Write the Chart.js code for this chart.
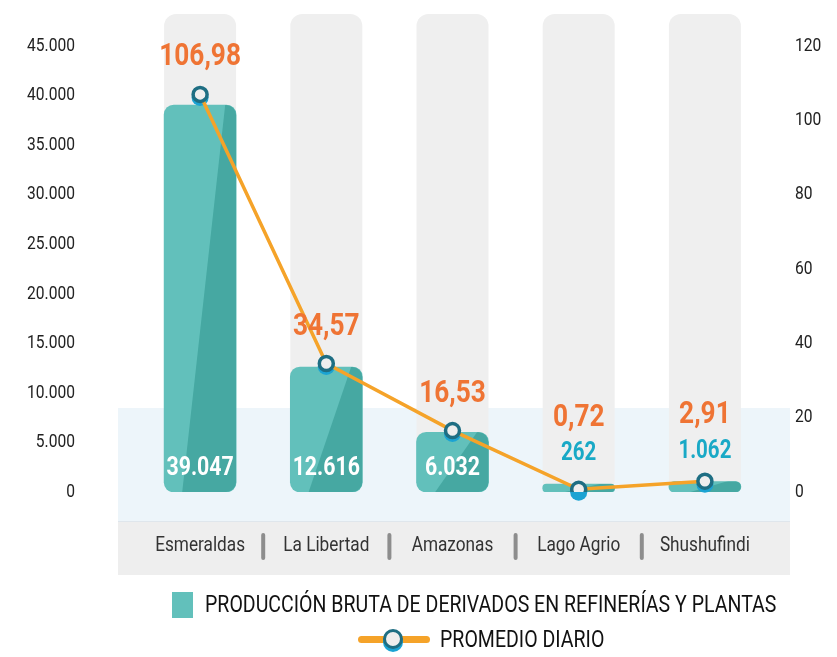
<!DOCTYPE html>
<html>
<head>
<meta charset="utf-8">
<script src="https://cdn.jsdelivr.net/npm/chart.js@4/dist/chart.umd.min.js"></script>
<style>
  html, body { margin: 0; padding: 0; background: #fff; }
  #wrap { position: relative; width: 837px; height: 657px; }
  .lg { position: absolute; font-family: Roboto, sans-serif; font-size: 23px; color: #111; white-space: nowrap; }
  .lg span { display: inline-block; transform: scaleX(0.85); transform-origin: left center; }
  #swatch { position: absolute; left: 172px; top: 592px; width: 21px; height: 26px; background: #62c0bb; }
  #lineIcon { position: absolute; left: 358px; top: 636px; width: 72px; height: 7px; border-radius: 4px; background: #f5a329; }
  #dotIcon { position: absolute; left: 383px; top: 629px; width: 14px; height: 14px; border-radius: 50%;
             border: 3px solid #1e6e83; background: #eeeeee; box-shadow: 0 3px 0 #1ba3d3; }
</style>
</head>
<body>
<div id="wrap">
  <canvas id="refineriasChart" width="837" height="657"></canvas>
  <div id="swatch"></div>
  <div class="lg" style="left:205px; top:591px;"><span>PRODUCCIÓN BRUTA DE DERIVADOS EN REFINERÍAS Y PLANTAS</span></div>
  <div id="lineIcon"></div>
  <div id="dotIcon"></div>
  <div class="lg" style="left:440px; top:626px;"><span>PROMEDIO DIARIO</span></div>
</div>
<script>
// Producción bruta de derivados por refinería / planta, con promedio diario
const categories = ['Esmeraldas', 'La Libertad', 'Amazonas', 'Lago Agrio', 'Shushufindi'];
const produccionBruta = [39047, 12616, 6032, 262, 1062];
const promedioDiario = [106.98, 34.57, 16.53, 0.72, 2.91];
const leftAxis = { min: 0, max: 45000, step: 5000 };
const rightAxis = { min: 0, max: 120, step: 20 };

const SX = 0.82; // texto condensado
const TEAL = '#62c0bb', TEAL_DARK = '#46a8a2', ORANGE = '#f5a329', ORANGE_TXT = '#ef7434';

const fmtMiles = v => String(v).replace(/\B(?=(\d{3})+(?!\d))/g, '.');
const fmtDec = v => v.toFixed(2).replace('.', ',');

function cText(ctx, text, x, y, font, color, align) {
  ctx.save();
  ctx.font = font;
  ctx.fillStyle = color;
  ctx.textAlign = align || 'center';
  ctx.textBaseline = 'middle';
  ctx.translate(x, y);
  ctx.scale(SX, 1);
  ctx.fillText(text, 0, 0);
  ctx.restore();
}

function roundRect(ctx, x, y, w, h, r) {
  r = Math.min(r, h / 2, w / 2);
  ctx.beginPath();
  ctx.moveTo(x + r, y);
  ctx.arcTo(x + w, y, x + w, y + h, r);
  ctx.arcTo(x + w, y + h, x, y + h, r);
  ctx.arcTo(x, y + h, x, y, r);
  ctx.arcTo(x, y, x + w, y, r);
  ctx.closePath();
}

const decor = {
  id: 'decor',
  beforeDatasetsDraw(chart) {
    const { ctx, chartArea: a, scales: { x } } = chart;
    const bandL = a.left - 19, bandR = a.right + 22;
    ctx.save();
    // franja azul y franja gris de categorías
    ctx.fillStyle = '#edf5fa';
    ctx.fillRect(bandL, a.bottom - 84, bandR - bandL, 114);
    ctx.fillStyle = '#dfe6ec';
    ctx.fillRect(bandL, a.bottom + 29, bandR - bandL, 2);
    ctx.fillStyle = '#eeeeee';
    ctx.fillRect(bandL, a.bottom + 30, bandR - bandL, 53);
    // columnas grises de fondo
    ctx.fillStyle = '#efefef';
    categories.forEach((c, i) => {
      const cx = x.getPixelForTick(i);
      roundRect(ctx, cx - 36, a.top - 32, 72, a.bottom - a.top + 32, 12);
      ctx.fill();
    });
    ctx.restore();
  },
  beforeDatasetDraw(chart, args) {
    if (args.meta.type !== 'line') return;
    const ctx = chart.ctx;
    ctx.save();
    ctx.fillStyle = '#1ba3d3';
    args.meta.data.forEach(p => {
      ctx.beginPath();
      ctx.arc(p.x, p.y + 3, 8.5, 0, Math.PI * 2);
      ctx.fill();
    });
    ctx.restore();
  },
  afterDatasetDraw(chart, args) {
    if (args.meta.type !== 'bar') return;
    const ctx = chart.ctx;
    args.meta.data.forEach(b => {
      const w = b.width, l = b.x - w / 2, r = b.x + w / 2, h = b.base - b.y;
      ctx.save();
      roundRect(ctx, l, b.y, w, h, 10);
      ctx.clip();
      ctx.fillStyle = TEAL_DARK;
      ctx.beginPath();
      ctx.moveTo(r - w * 0.15, b.y - 1);
      ctx.lineTo(r + 1, b.y - 1);
      ctx.lineTo(r + 1, b.base + 1);
      ctx.lineTo(l + w * 0.25, b.base + 1);
      ctx.closePath();
      ctx.fill();
      ctx.restore();
    });
  },
  afterDatasetsDraw(chart) {
    const { ctx, chartArea: a, scales } = chart;
    const bars = chart.getDatasetMeta(0).data;
    const pts = chart.getDatasetMeta(1).data;

    // etiquetas de ejes
    scales.y.ticks.forEach(t => {
      cText(ctx, fmtMiles(t.value), 75, scales.y.getPixelForValue(t.value), '19px Roboto', '#222', 'right');
    });
    scales.y1.ticks.forEach(t => {
      cText(ctx, String(t.value), 795, scales.y1.getPixelForValue(t.value), '19px Roboto', '#222', 'left');
    });
    categories.forEach((c, i) => {
      const cx = scales.x.getPixelForTick(i);
      cText(ctx, c, cx, a.bottom + 54, '21px Roboto', '#333');
      if (i > 0) {
        const sx = (cx + scales.x.getPixelForTick(i - 1)) / 2;
        ctx.fillStyle = '#8d8d8d';
        roundRect(ctx, sx - 2, a.bottom + 41, 4, 27, 2);
        ctx.fill();
      }
    });

    // valores
    bars.forEach((b, i) => {
      const p = pts[i];
      const h = b.base - b.y;
      if (h > 40) {
        cText(ctx, fmtMiles(produccionBruta[i]), b.x, b.base - 24, 'bold 26px Roboto', '#fff');
        cText(ctx, fmtDec(promedioDiario[i]), b.x, Math.min(p.y, b.y) - 37, 'bold 32px Roboto', ORANGE_TXT);
      } else {
        cText(ctx, fmtMiles(produccionBruta[i]), b.x, b.y - 30, 'bold 25px Roboto', '#19a9c6');
        cText(ctx, fmtDec(promedioDiario[i]), b.x, b.y - 66, 'bold 32px Roboto', ORANGE_TXT);
      }
    });
  }
};

new Chart(document.getElementById('refineriasChart'), {
  data: {
    labels: categories,
    datasets: [
      {
        type: 'bar', label: 'PRODUCCIÓN BRUTA DE DERIVADOS EN REFINERÍAS Y PLANTAS',
        data: produccionBruta, yAxisID: 'y', order: 1,
        backgroundColor: TEAL, borderRadius: 10, borderSkipped: false,
        barThickness: 72, minBarLength: 8,
      },
      {
        type: 'line', label: 'PROMEDIO DIARIO',
        data: promedioDiario, yAxisID: 'y1', order: 0,
        borderColor: ORANGE, borderWidth: 3.5, tension: 0,
        pointRadius: 7, pointBorderWidth: 3.5, pointBorderColor: '#1e6e83', pointBackgroundColor: '#eeeeee',
      },
    ],
  },
  options: {
    responsive: false, animation: false,
    layout: { padding: { top: 46, bottom: 82, left: 0, right: 0 } },
    plugins: { legend: { display: false }, tooltip: { enabled: false } },
    scales: {
      x: {
        grid: { display: false }, border: { display: false }, ticks: { display: false },
        afterFit: s => { s.height = 83; },
      },
      y: {
        position: 'left', min: leftAxis.min, max: leftAxis.max,
        ticks: { display: false, stepSize: leftAxis.step },
        grid: { display: false }, border: { display: false },
        afterFit: s => { s.width = 137; },
      },
      y1: {
        position: 'right', min: rightAxis.min, max: rightAxis.max,
        ticks: { display: false, stepSize: rightAxis.step },
        grid: { display: false }, border: { display: false },
        afterFit: s => { s.width = 69; },
      },
    },
  },
  plugins: [decor],
});
</script>
</body>
</html>
